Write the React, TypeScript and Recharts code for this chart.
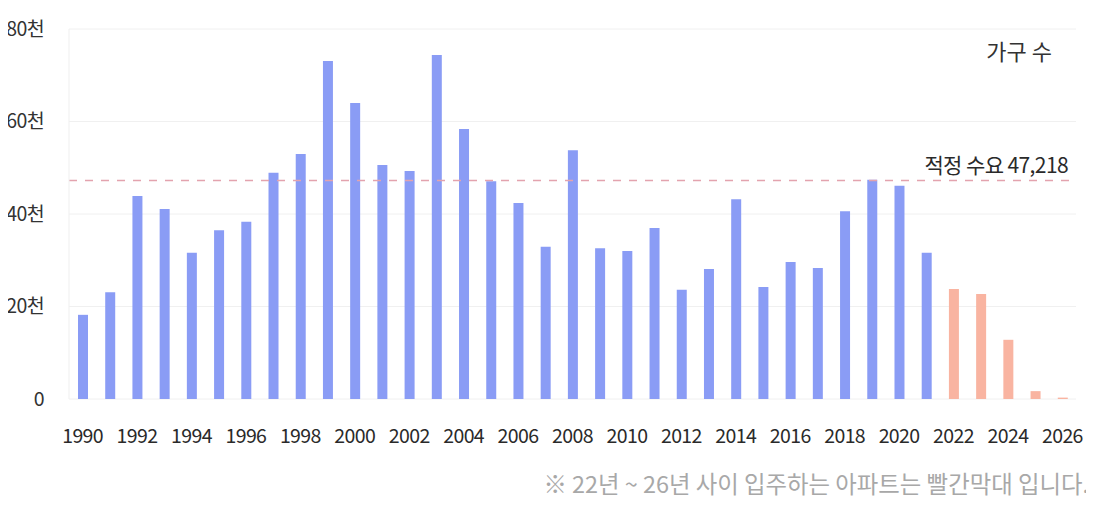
import { BarChart, Bar, XAxis, YAxis, CartesianGrid, ReferenceLine, Label, Cell } from "recharts";

const years = [
  1990, 1991, 1992, 1993, 1994, 1995, 1996, 1997, 1998, 1999,
  2000, 2001, 2002, 2003, 2004, 2005, 2006, 2007, 2008, 2009,
  2010, 2011, 2012, 2013, 2014, 2015, 2016, 2017, 2018, 2019,
  2020, 2021, 2022, 2023, 2024, 2025, 2026,
];

// 입주 물량 (세대)
const supply = [
  18200, 23100, 43900, 41100, 31600, 36500, 38300, 48900, 53000, 73100,
  64000, 50600, 49300, 74400, 58400, 47100, 42400, 32900, 53800, 32600,
  32000, 37000, 23600, 28100, 43200, 24200, 29600, 28300, 40600, 47400,
  46100, 31600, 23800, 22700, 12800, 1700, 300,
];

const forecastFrom = 2022;
const demand = 47218;
const yTicks = [0, 20000, 40000, 60000, 80000];

const data = years.map((year, i) => ({ year, value: supply[i] }));

const FONT = "'Noto Sans CJK KR', 'Noto Sans', sans-serif";
const BLUE = "#8a9cf5";
const SALMON = "#f9b4a1";

const fmtY = (v: number) => (v === 0 ? "0" : `${v / 1000}천`);

function App() {
  return (
    // cancel the body margin so the chart sits flush with the page edges
    <div style={{ position: "relative", width: 1094, height: 497, margin: "-8px 0 0 -8px", fontFamily: FONT, background: "#fff" }}>
      <BarChart
        width={1094}
        height={448}
        data={data}
        margin={{ top: 29, right: 18, bottom: 0, left: 0 }}
        barCategoryGap="0%"
      >
        <CartesianGrid yAxisId="left" vertical={false} stroke="#f0f0f0" />
        <XAxis
          dataKey="year"
          interval={1}
          tickLine={false}
          axisLine={false}
          height={49}
          tickMargin={24}
          tick={{ fontSize: 19.5, fill: "#2a2a2a", fontFamily: FONT, letterSpacing: -0.6 }}
        />
        <YAxis
          yAxisId="left"
          domain={[0, 80000]}
          ticks={yTicks}
          tickFormatter={fmtY}
          width={69}
          tickSize={0}
          tickMargin={25}
          axisLine={{ stroke: "#efefef" }}
          tickLine={false}
          tick={{ fontSize: 19.5, fill: "#333", fontFamily: FONT, letterSpacing: -0.6 }}
        />
        <YAxis
          yAxisId="right"
          orientation="right"
          domain={[0, 80000]}
          width={0}
          tick={false}
          tickLine={false}
          axisLine={{ stroke: "#efefef" }}
        />
        <ReferenceLine
          yAxisId="left"
          y={demand}
          stroke="#e3a3ae"
          strokeWidth={1.5}
          strokeDasharray="8 8"
        >
          <Label
            value={`적정 수요 ${demand.toLocaleString("en-US")}`}
            position="insideBottomRight"
            offset={8}
            fill="#2a2a2a"
            fontSize={21}
            fontFamily={FONT}
            letterSpacing={-0.6}
          />
        </ReferenceLine>
        <Bar yAxisId="left" dataKey="value" barSize={10} isAnimationActive={false}>
          {data.map((d) => (
            <Cell key={d.year} fill={d.year >= forecastFrom ? SALMON : BLUE} />
          ))}
        </Bar>
      </BarChart>
      <div
        style={{
          position: "absolute",
          right: 42,
          top: 34,
          fontSize: 22,
          color: "#333",
          fontFamily: FONT,
          whiteSpace: "nowrap",
        }}
      >
        가구 수
      </div>
      <div
        style={{
          position: "absolute",
          right: 5,
          top: 466,
          fontSize: 23.4,
          color: "#a8a8a8",
          fontFamily: FONT,
          whiteSpace: "nowrap",
        }}
      >
        ※ 22년 ~ 26년 사이 입주하는 아파트는 빨간막대 입니다.
      </div>
    </div>
  );
}

export default App;
